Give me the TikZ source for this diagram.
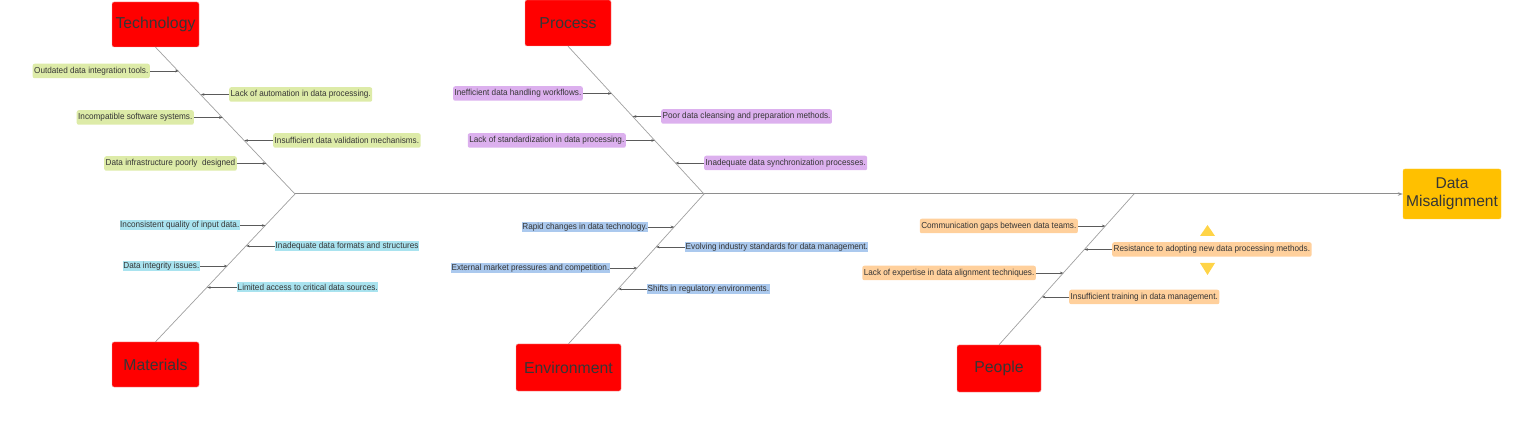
\documentclass[tikz,border=0pt]{standalone}
\usepackage{fontspec}
\setmainfont{Liberation Sans}
\newfontfamily\causefont[FakeStretch=0.94]{Liberation Sans}
\usetikzlibrary{arrows.meta,calc}
\definecolor{catred}{HTML}{FF0000}
\definecolor{catborder}{HTML}{F2A0A0}
\definecolor{txt}{HTML}{363636}
\definecolor{dmyel}{HTML}{FFC000}
\definecolor{trigold}{HTML}{FFD447}
\definecolor{cgreen}{HTML}{DDEBA8}
\definecolor{ccyan}{HTML}{A9E3EF}
\definecolor{cpurple}{HTML}{DCB0EE}
\definecolor{cblue}{HTML}{ABC9EE}
\definecolor{corange}{HTML}{FFD09C}
\definecolor{bonegray}{HTML}{A0A0A0}
\definecolor{spinegray}{HTML}{8E8E8E}
\definecolor{arrgray}{HTML}{5A5A5A}
\begin{document}
\begin{tikzpicture}[x=1pt,y=-1pt,
  catbox/.style={fill=catred, draw=catborder, line width=0.4pt, rounded corners=2pt, text=txt,
    font=\fontsize{15.8pt}{18pt}\selectfont, inner sep=0pt},
  cause/.style={font=\causefont\fontsize{8.7pt}{10pt}\selectfont, text=txt, inner xsep=1.5pt, inner ysep=0pt,
    minimum height=14.5pt, rounded corners=2pt},
  tightcause/.style={font=\causefont\fontsize{8.7pt}{10pt}\selectfont, text=txt, inner xsep=0.5pt, inner ysep=0pt,
    minimum height=10pt},
  tcause/.style={cause, fill=cgreen},
  mcause/.style={tightcause, fill=ccyan},
  pcause/.style={cause, fill=cpurple},
  ecause/.style={tightcause, fill=cblue},
  hcause/.style={cause, fill=corange},
  bone/.style={draw=bonegray, line width=0.7pt},
  spine/.style={draw=spinegray, line width=1pt, -{Stealth[length=5pt,width=3.5pt]}},
  carrow/.style={draw=arrgray, line width=0.6pt, -{Stealth[length=3.5pt,width=2.6pt]}},
  tri/.style={fill=trigold}
]
\useasboundingbox (0,0) rectangle (1531,435);

% categories
\node[catbox, minimum width=87pt, minimum height=45pt] (tech) at (155.5,24.5) {Technology};
\node[catbox, minimum width=87pt, minimum height=45pt] (mat) at (155.5,364.5) {Materials};
\node[catbox, minimum width=86pt, minimum height=46pt] (proc) at (568,23) {Process};
\node[catbox, minimum width=105pt, minimum height=47pt] (env) at (568.5,367.5) {Environment};
\node[catbox, minimum width=84pt, minimum height=47pt] (ppl) at (999,368.5) {People};
\node[fill=dmyel, draw=dmyel!80!white, line width=0.4pt, rounded corners=2pt, text=txt,
  font=\fontsize{15.6pt}{18pt}\selectfont, align=center, inner sep=0pt,
  minimum width=98pt, minimum height=50pt] (dm) at (1452,194) {Data\\Misalignment};

% junctions
\coordinate (J1) at (295,194);
\coordinate (J2) at (704,194);
\coordinate (J3) at (1134,194);

% spine and bones
\draw[spine] (J1) -- (dm.west);
\draw[bone] (tech.south) -- (J1);
\draw[bone] (J1) -- (mat.north);
\draw[bone] (proc.south) -- (J2);
\draw[bone] (J2) -- (env.north);
\draw[bone] (J3) -- (ppl.north);

% Technology causes
\node[tcause, anchor=east] (t1) at (150,71) {Outdated data integration tools.};
\node[tcause, anchor=west] (t2) at (229,94.5) {Lack of automation in data processing.};
\node[tcause, anchor=east] (t3) at (194,117.5) {Incompatible software systems.};
\node[tcause, anchor=west] (t4) at (273,140.5) {Insufficient data validation mechanisms.};
\node[tcause, anchor=east] (t5) at (237,163.5) {Data infrastructure poorly\ \ designed};
\coordinate (t1p) at (178.7,71);
\coordinate (t2p) at (200.9,94.5);
\coordinate (t3p) at (222.7,117.5);
\coordinate (t4p) at (244.4,140.5);
\coordinate (t5p) at (266.2,163.5);
\draw[carrow] (t1.east) -- (t1p);
\draw[carrow] (t2.west) -- (t2p);
\draw[carrow] (t3.east) -- (t3p);
\draw[carrow] (t4.west) -- (t4p);
\draw[carrow] (t5.east) -- (t5p);

% Materials causes
\node[mcause, anchor=east] (m1) at (240,225.5) {Inconsistent quality of input data.};
\node[mcause, anchor=west] (m2) at (275,246) {Inadequate data formats and structures};
\node[mcause, anchor=east] (m3) at (200,266) {Data integrity issues.};
\node[mcause, anchor=west] (m4) at (237,287.5) {Limited access to critical data sources.};
\coordinate (m1p) at (265.4,225.5);
\coordinate (m2p) at (246.2,246);
\coordinate (m3p) at (227.4,266);
\coordinate (m4p) at (207.2,287.5);
\draw[carrow] (m1.east) -- (m1p);
\draw[carrow] (m2.west) -- (m2p);
\draw[carrow] (m3.east) -- (m3p);
\draw[carrow] (m4.west) -- (m4p);

% Process causes
\node[pcause, anchor=east] (p1) at (583,93.5) {Inefficient data handling workflows.};
\node[pcause, anchor=west] (p2) at (661,116.5) {Poor data cleansing and preparation methods.};
\node[pcause, anchor=east] (p3) at (626,140.5) {Lack of standardization in data processing.};
\node[pcause, anchor=west] (p4) at (704,163) {Inadequate data synchronization processes.};
\coordinate (p1p) at (611.6,93.5);
\coordinate (p2p) at (632.8,116.5);
\coordinate (p3p) at (654.8,140.5);
\coordinate (p4p) at (675.5,163);
\draw[carrow] (p1.east) -- (p1p);
\draw[carrow] (p2.west) -- (p2p);
\draw[carrow] (p3.east) -- (p3p);
\draw[carrow] (p4.west) -- (p4p);

% Environment causes
\node[ecause, anchor=east] (e1) at (648,227) {Rapid changes in data technology.};
\node[ecause, anchor=west] (e2) at (685,247) {Evolving industry standards for data management.};
\node[ecause, anchor=east] (e3) at (610,268) {External market pressures and competition.};
\node[ecause, anchor=west] (e4) at (647,289) {Shifts in regulatory environments.};
\coordinate (e1p) at (674.2,227);
\coordinate (e2p) at (656.1,247);
\coordinate (e3p) at (637.2,268);
\coordinate (e4p) at (618.2,289);
\draw[carrow] (e1.east) -- (e1p);
\draw[carrow] (e2.west) -- (e2p);
\draw[carrow] (e3.east) -- (e3p);
\draw[carrow] (e4.west) -- (e4p);

% People causes
\node[hcause, anchor=east] (h1) at (1078,226) {Communication gaps between data teams.};
\node[hcause, anchor=west] (h2) at (1112,249.5) {Resistance to adopting new data processing methods.};
\node[hcause, anchor=east] (h3) at (1036,273) {Lack of expertise in data alignment techniques.};
\node[hcause, anchor=west] (h4) at (1069,297) {Insufficient training in data management.};
\coordinate (h1p) at (1105.4,226);
\coordinate (h2p) at (1084.4,249.5);
\coordinate (h3p) at (1063.4,273);
\coordinate (h4p) at (1041.9,297);
\draw[carrow] (h1.east) -- (h1p);
\draw[carrow] (h2.west) -- (h2p);
\draw[carrow] (h3.east) -- (h3p);
\draw[carrow] (h4.west) -- (h4p);

% yellow triangles
\fill[tri] (1200,236) -- (1215,236) -- (1207.5,225) -- cycle;
\fill[tri] (1200,263) -- (1215,263) -- (1207.5,275) -- cycle;
\end{tikzpicture}
\end{document}
